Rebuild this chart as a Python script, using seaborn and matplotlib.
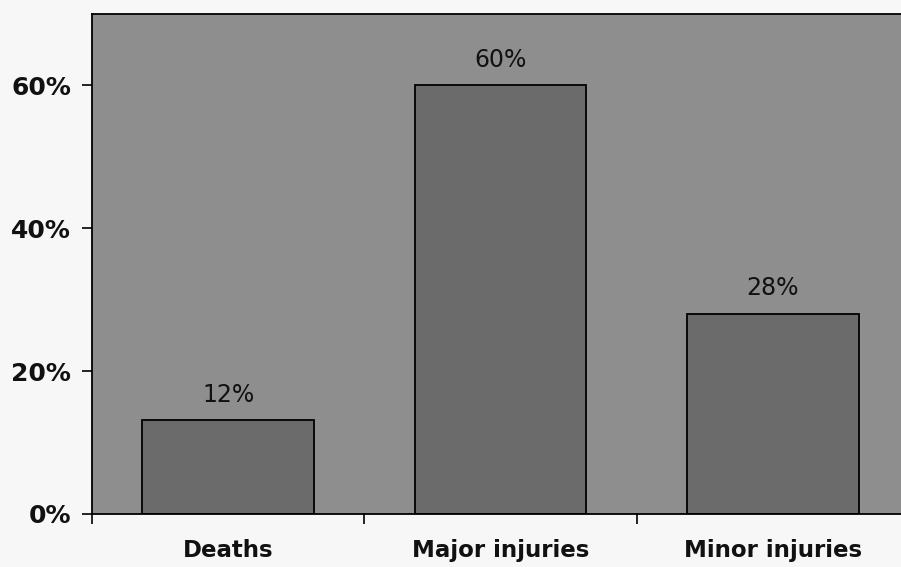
import seaborn as sns
import matplotlib.pyplot as plt
import matplotlib.ticker as mticker
import pandas as pd

categorias = ['Deaths', 'Major injuries', 'Minor injuries']
valores = [13.1, 60, 28]          # bar heights as drawn
etiquetas = ['12%', '60%', '28%'] # labels as printed

df = pd.DataFrame({'CAT': categorias, 'VAL': valores})

sns.set_style("ticks")
plt.rcParams['font.family'] = ['DejaVu Sans']

fig = plt.figure(figsize=(9.01, 5.67), dpi=100, facecolor='#f7f7f7')
ax = fig.add_axes([0.1021, 0.0935, 1.009 - 0.1021, 0.8818])
ax.set_facecolor('#8e8e8e')

ax = sns.barplot(x='CAT', y='VAL', data=df, color='#6b6b6b', width=0.63,
                 edgecolor='black', linewidth=1.3, saturation=1, ax=ax)

for i, t in enumerate(etiquetas):
   ax.annotate(t, (i, valores[i]), xytext=(0, 10), textcoords='offset points',
               ha='center', va='bottom', fontsize=17, color='#111111')

ax.set_xlim(-0.5, 2.5)
ax.set_ylim(0, 70)
ax.yaxis.set_major_locator(mticker.MultipleLocator(20))
ax.yaxis.set_major_formatter(mticker.FuncFormatter(lambda v, p: '%d%%' % v))
ax.set_xticks([-0.5, 0.5, 1.5, 2.5], minor=True)
ax.tick_params(axis='x', which='major', length=0, pad=18, labelsize=16.5)
ax.tick_params(axis='x', which='minor', length=7, width=1.2, direction='out', color='black')
ax.tick_params(axis='y', length=7, width=1.2, direction='out', pad=8, labelsize=18, color='black')
for lab in ax.get_xticklabels() + ax.get_yticklabels():
   lab.set_fontweight('bold')
   lab.set_color('#111111')

for s in ax.spines.values():
   s.set_color('black')
   s.set_linewidth(1.3)

ax.set_xlabel('')
ax.set_ylabel('')
plt.savefig('out.png', dpi=100, facecolor=fig.get_facecolor())
plt.close('all')
